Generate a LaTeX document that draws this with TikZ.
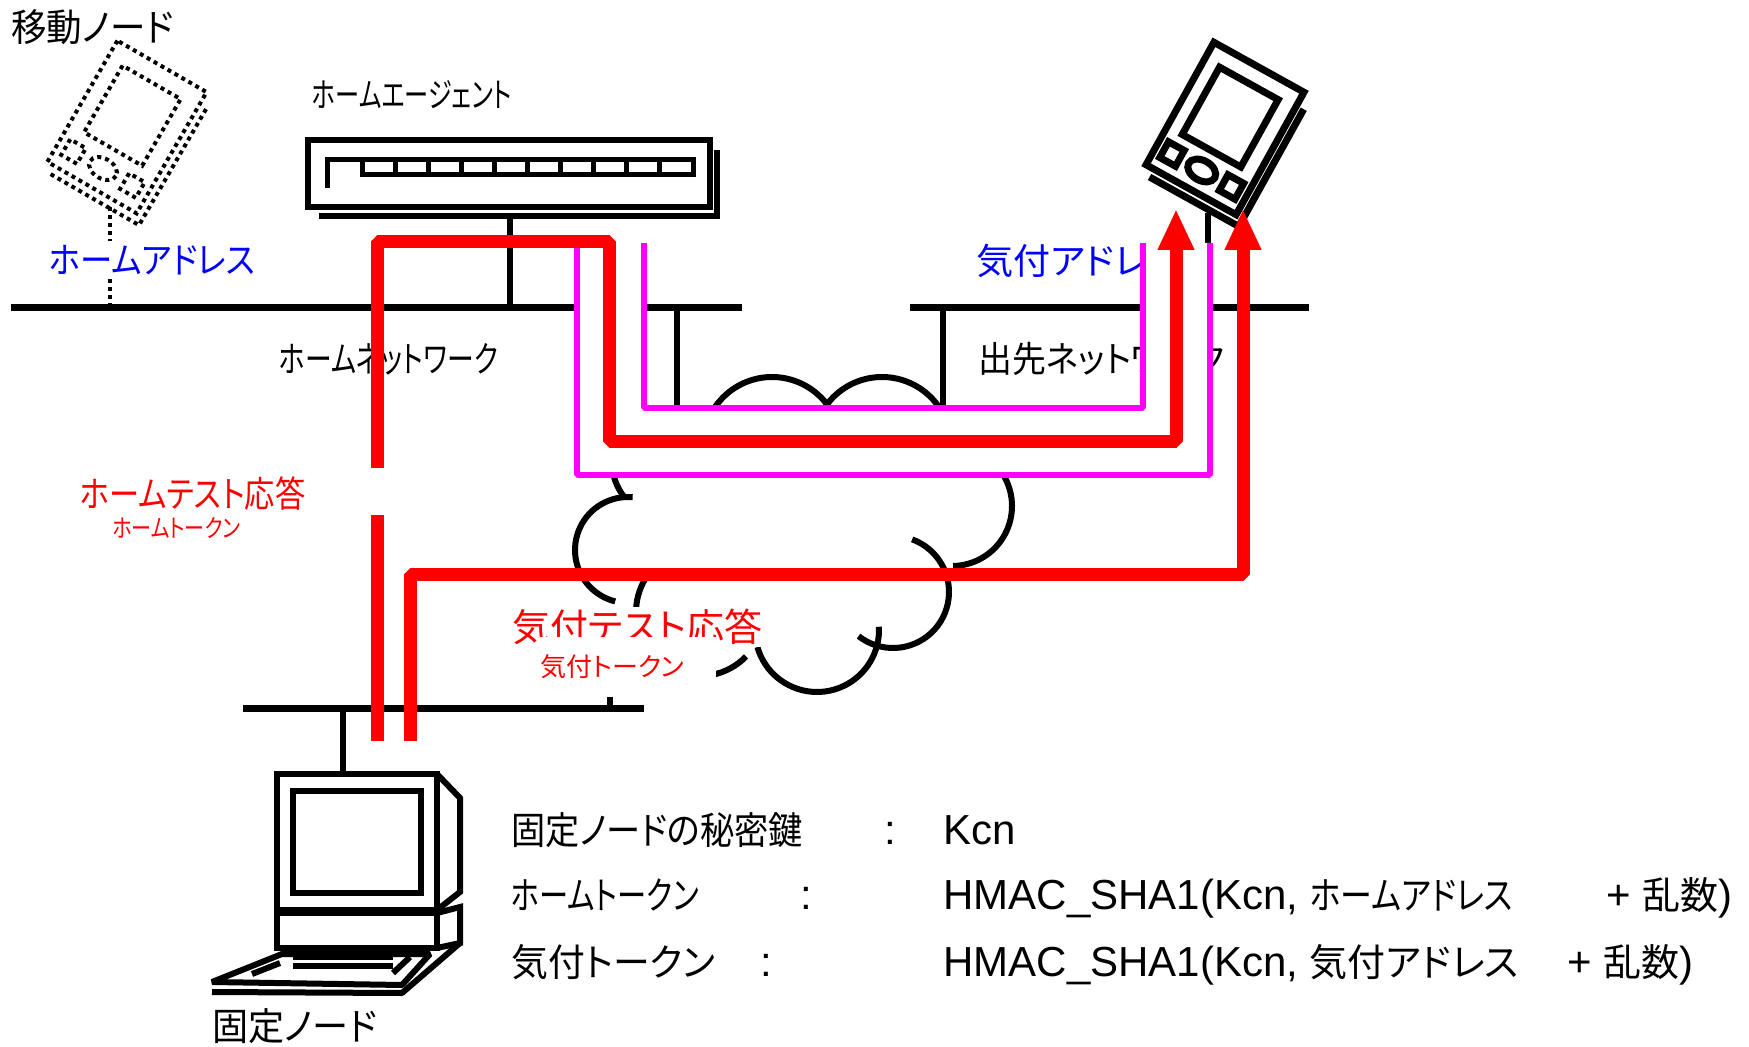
\documentclass[tikz,border=0pt]{standalone}
\usepackage{graphicx}
\usepackage{fontspec}
\setmainfont{Liberation Sans}
\newfontfamily\jp{Noto Sans CJK JP}[RawFeature=+palt]
\usetikzlibrary{arrows.meta}
\definecolor{tunnelmg}{RGB}{255,0,255}
\definecolor{msgred}{RGB}{255,0,0}
\definecolor{addrblue}{RGB}{0,0,255}
% Japanese text: size in pt, horizontal squeeze, text
\newcommand\jtxt[3]{\scalebox{#2}[1]{\jp\fontsize{#1}{#1}\selectfont #3}}
\tikzset{
  net/.style={line width=3.5pt},
  link/.style={line width=3pt},
  dev/.style={line width=3pt, line join=miter},
  redpath/.style={draw=msgred, line width=6.5pt, line join=bevel},
  magpath/.style={draw=tunnelmg, line width=3pt, line join=bevel},
  tip/.style={-{Triangle[width=17pt,length=20.5pt]}},
  cloudline/.style={line width=3pt},
  lab/.style={inner sep=0pt},
  lg/.style={font=\fontsize{21}{25}\selectfont, inner sep=0pt},
  pda/.pic={
    \draw (-51.5,-70) rectangle (51.5,70);
    \draw (59.5,-55) -- (59.5,79) -- (-42.5,79);
    \draw (-34.5,-51) rectangle (32.5,26);
    \draw (-43,39) rectangle (-25,57);
    \draw (0,48) ellipse [x radius=15, y radius=10];
    \draw (25,39) rectangle (43,57);
  }
}
\begin{document}
\begin{tikzpicture}[x=0.5pt,y=-0.5pt]
\useasboundingbox (0,0) rectangle (1749,1047);

% ---- networks ----
\coordinate (hn1) at (11,308);  \coordinate (hn2) at (742,308);
\coordinate (vn1) at (910,308); \coordinate (vn2) at (1309,308);
\coordinate (bn1) at (243,708); \coordinate (bn2) at (644,708);
\draw[net] (hn1) -- (hn2);
\draw[net] (vn1) -- (vn2);
\draw[net] (bn1) -- (bn2);

% ---- home agent ----
\draw[dev] (308,140) rectangle (710,207);
\draw[dev] (717,150) -- (717,216) -- (319,216);
\draw[line width=2.5pt] (327,188) -- (327,160) -- (362,160);
\draw[line width=2.5pt] (362,160) rectangle (693,175);
\foreach \i in {1,...,9} \draw[line width=2.5pt] ({362+33.1*\i},160) -- ({362+33.1*\i},175);
\coordinate (ha) at (510,216);
\coordinate (haN) at (510,308);
\draw[link] (ha) -- (haN);
\node[lab, anchor=west] (halbl) at (312,95) {\jtxt{17}{0.71}{ホームエージェント}};

% ---- mobile node (at home, dotted) and on the visited network ----
\pic (mnh) [line width=2pt, dash pattern=on 2pt off 2pt, rotate=-30] at (127,127) {pda};
\coordinate (mnhA) at (110,207); \coordinate (mnhN) at (110,308);
\draw[line width=2pt, dash pattern=on 2pt off 2pt] (mnhA) -- (mnhN);
\pic (mnv) [line width=3.5pt, rotate=-29] at (1225,128.5) {pda};
\coordinate (mnvA) at (1208,213); \coordinate (mnvN) at (1208,308);
\draw[link] (mnvA) -- (mnvN);
\node[lab, anchor=west] (mnlbl) at (11,27) {\jtxt{19}{0.935}{移動ノード}};

% ---- fixed node (computer) ----
\coordinate (cnA) at (343,708); \coordinate (cnB) at (343,774);
\draw[link] (cnA) -- (cnB);
\draw[dev] (277,774) rectangle (437,910);
\draw[dev] (293,791) rectangle (421,893);
\draw[dev] (437,774) -- (460,798) -- (460,892) -- (437,910);
\draw[dev] (277,913) rectangle (437,948);
\draw[dev] (437,913) -- (460,907) -- (460,943) -- (437,948);
\draw[dev, line join=bevel] (282,954) -- (430,954) -- (402,985) -- (212,982) -- cycle;
\draw[dev, line join=bevel] (212,992) -- (402,993) -- (460,943);
\draw[dev] (293,957) -- (393,957);
\draw[dev] (293,966) -- (393,966);
\draw[dev] (252,974) -- (280,963);
\draw[dev] (393,973) -- (410,957);
\node[lab, anchor=west] (cnlbl) at (212,1026) {\jtxt{19}{0.95}{固定ノード}};

% ---- labels ----
\node[lab, anchor=west] (hnlbl) at (279,359) {\jtxt{18}{0.745}{ホームネットワーク}};
\node[lab, anchor=west] (vnlbl) at (978,359) {\jtxt{18}{0.94}{出先ネットワーク}};
\node[lab, anchor=west, text=addrblue, fill=white, inner sep=2pt] (hoa) at (45,260) {\jtxt{18}{0.9}{ホームアドレス}};
\node[lab, anchor=west, text=addrblue] (coa) at (976,261) {\jtxt{18}{1.03}{気付アドレス}};

% ---- internet cloud ----
\coordinate (hl) at (677,308); \coordinate (hc) at (677,406);
\coordinate (vl) at (943,308); \coordinate (vc) at (943,406);
\draw[link] (hl) -- (hc);
\draw[link] (vl) -- (vc);
\coordinate (bl) at (610,708); \coordinate (bc) at (610,678);
\draw[link] (bl) -- (bc);
\foreach \cx/\cy/\r/\a/\b in {772/446/69/-150/-30, 882/446/69/-150/-30,
    952/506/60/-45/89, 893/592/56/-70/128, 817/630/62/-3/164,
    700/612/64/44/212, 628/550/53/104/275, 668/462/56/143/175}
  \draw[cloudline] plot[domain=\a:\b, samples=40, variable=\t]
    ({\cx+\r*cos(\t)},{\cy+\r*sin(\t)});

\node[lab, anchor=west, text=msgred, fill=white, inner sep=1pt] (coreply) at (510,627) {\jtxt{19}{1}{気付テスト応答}};
\node[lab, anchor=west, text=msgred, fill=white, text width=88pt, align=left,
      minimum height=30pt] (cotok) at (540,667) {\jtxt{13}{1}{気付トークン}};
\node[lab, anchor=west, text=msgred] (horeply) at (80,494) {\jtxt{18}{0.84}{ホームテスト応答}};
\node[lab, anchor=west, text=msgred] (hotok) at (112,528) {\jtxt{12.5}{0.8}{ホームトークン}};

% ---- tunnel band between the magenta paths ----
\coordinate (mo1) at (577,243); \coordinate (mo2) at (577,475);
\coordinate (mo3) at (1210,475); \coordinate (mo4) at (1210,243);
\coordinate (mi1) at (644,243); \coordinate (mi2) at (644,408);
\coordinate (mi3) at (1143,408); \coordinate (mi4) at (1143,243);
\fill[white] (mo1) -- (mo2) -- (mo3) -- (mo4) -- (mi4) -- (mi3) -- (mi2) -- (mi1) -- cycle;
\draw[magpath] (mo1) -- (mo2) -- (mo3) -- (mo4);
\draw[magpath] (mi1) -- (mi2) -- (mi3) -- (mi4);

% ---- home test response (via home agent) ----
\coordinate (r1a) at (377,741); \coordinate (r1g1) at (377,515);
\coordinate (r1g2) at (377,468); \coordinate (r1b) at (377,242);
\coordinate (r1c) at (609,242); \coordinate (r1d) at (609,442);
\coordinate (r1e) at (1176,442); \coordinate (r1t) at (1176,209);
\draw[redpath] (r1a) -- (r1g1);
\draw[redpath, tip] (r1g2) -- (r1b) -- (r1c) -- (r1d) -- (r1e) -- (r1t);

% ---- care-of test response (direct) ----
\coordinate (r2a) at (410,741); \coordinate (r2b) at (410,574);
\coordinate (r2c) at (1243,574); \coordinate (r2t) at (1243,209);
\draw[redpath, tip] (r2a) -- (r2b) -- (r2c) -- (r2t);

% ---- legend ----
\node[lg, anchor=base west] (l1a) at (511,844) {\jtxt{19}{0.9}{固定ノードの秘密鍵}};
\node[lg, anchor=base west] (l1b) at (884,844) {:};
\node[lg, anchor=base west] (l1c) at (943,844) {Kcn};
\node[lg, anchor=base west] (l2a) at (511,909) {\jtxt{19}{0.77}{ホームトークン}};
\node[lg, anchor=base west] (l2b) at (800,909) {:};
\node[lg, anchor=base west] (l2c) at (943,909) {HMAC\_SHA1(Kcn, \jtxt{19}{0.84}{ホームアドレス}};
\node[lg, anchor=base west] (l2d) at (1606,909) {+ \jtxt{19}{1}{乱数})};
\node[lg, anchor=base west] (l3a) at (511,976) {\jtxt{19}{0.97}{気付トークン}};
\node[lg, anchor=base west] (l3b) at (760,976) {:};
\node[lg, anchor=base west] (l3c) at (943,976) {HMAC\_SHA1(Kcn, \jtxt{19}{1}{気付アドレス}};
\node[lg, anchor=base west] (l3d) at (1567,976) {+ \jtxt{19}{1}{乱数})};
\end{tikzpicture}
\end{document}
